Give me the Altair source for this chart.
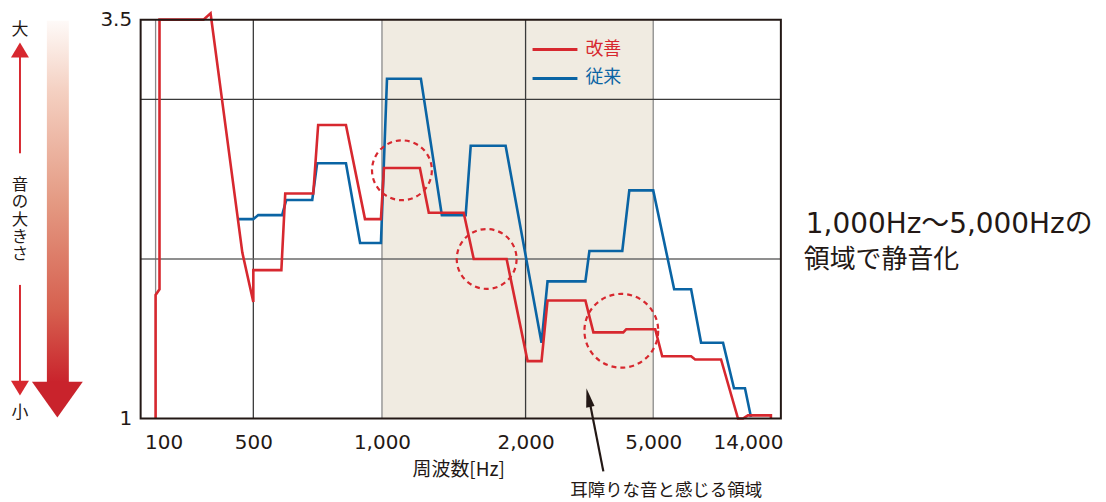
import altair as alt
import pandas as pd

RED = "#d7282f"
BLUE = "#0a64a4"
INK = "#231815"
BAND = "#f0ebe1"
JP = "Noto Sans CJK JP"
NUM = "DejaVu Sans"

# ---- data ----
red_freq = [100, 100, 116, 116, 296, 325, 455, 500, 500, 609, 624, 733, 752, 860,
            934, 996, 1014, 1264, 1326, 1569, 1639, 1868, 2047, 2375, 2516, 3406,
            3594, 4297, 4367, 5200, 5900, 8800, 9200, 11800, 13500, 14000, 14500,
            16800, 16800]
red_level = [1.0, 1.775, 1.81, 3.5, 3.5, 3.54, 2.04, 1.73, 1.93, 1.93, 2.41, 2.41,
             2.84, 2.84, 2.25, 2.25, 2.57, 2.57, 2.29, 2.29, 2.0, 2.0, 1.36, 1.36,
             1.74, 1.74, 1.54, 1.54, 1.56, 1.56, 1.39, 1.39, 1.37, 1.37, 1.0, 1.0,
             1.02, 1.02, 1.0]
blue_freq = [437, 500, 519, 612, 628, 729, 748, 860, 915, 996, 1035, 1271, 1417,
             1583, 1618, 1861, 2375, 2516, 3406, 3500, 4273, 4438, 5000, 7100, 8800,
             9800, 12000, 13100, 14200, 14800]
blue_level = [2.25, 2.25, 2.275, 2.275, 2.37, 2.37, 2.6, 2.6, 2.1, 2.1, 3.13, 3.13,
              2.275, 2.275, 2.71, 2.71, 1.475, 1.86, 1.86, 2.05, 2.05, 2.43, 2.43,
              1.81, 1.81, 1.475, 1.475, 1.19, 1.19, 1.01]

circle_small_freq = [1139, 1729]
circle_small_level = [2.556, 2.0]
circle_large_freq = [4250]
circle_large_level = [1.55]

x_ticks = [100, 500, 1000, 2000, 5000, 14000]
y_ticks = [1, 3.5]
grid_x_dark = [500, 2000]
grid_x_light = [100, 1000, 5000]
grid_y_dark = [3]
grid_y_light = [2]
band_start = [1000]
band_end = [5000]

series_names = ["改善", "従来"]
volume_chars = ["音", "の", "大", "き", "さ"]

# ---- scales / axes ----
W, H = 642, 400
x_domain = [39, 100, 500, 1000, 2000, 5000, 14000, 17800]
x_range = [0, 15, 113, 242, 386, 514, 604, 642]
xscale = alt.Scale(domain=x_domain, range=x_range, nice=False, zero=False)
yscale = alt.Scale(domain=[1, 3.5], nice=False, zero=False)

xaxis = alt.Axis(values=x_ticks, format=",d", grid=False, ticks=False, tickSize=0,
                 domain=False, labelFont=NUM, labelFontSize=20, labelColor=INK,
                 labelPadding=14, labelFlush=False, labelOverlap=False, title=None,
                 labelOffset={"condition": [{"test": "datum.value === 100", "value": 8},
                                            {"test": "datum.value === 14000", "value": 5}],
                              "value": 0})
yaxis = alt.Axis(values=y_ticks, format=".1~f", grid=False, ticks=False, tickSize=0,
                 domain=False, labelFont=NUM, labelFontSize=20, labelColor=INK,
                 labelPadding=9, labelFlush=False, labelOverlap=False, title=None)


def X(field):
    return alt.X(field, type="quantitative", scale=xscale, axis=xaxis)


def Y(field):
    return alt.Y(field, type="quantitative", scale=yscale, axis=yaxis)


dummy = pd.DataFrame({"a": [0]})

band = alt.Chart(pd.DataFrame({"f0": band_start, "f1": band_end})).mark_rect(
    color=BAND).encode(x=X("f0"), x2="f1")

gx_dark = alt.Chart(pd.DataFrame({"f": grid_x_dark})).mark_rule(
    color="#3a3a3a", strokeWidth=1.3).encode(x=X("f"))
gx_light = alt.Chart(pd.DataFrame({"f": grid_x_light})).mark_rule(
    color="#8a8a8a", strokeWidth=1.3).encode(x=X("f"))
gy_dark = alt.Chart(pd.DataFrame({"v": grid_y_dark})).mark_rule(
    color="#3a3a3a", strokeWidth=1.3).encode(y=Y("v"))
gy_light = alt.Chart(pd.DataFrame({"v": grid_y_light})).mark_rule(
    color="#6a6a6a", strokeWidth=1.3).encode(y=Y("v"))

blue_df = pd.DataFrame({"freq": blue_freq, "level": blue_level,
                        "i": list(range(len(blue_freq)))})
red_df = pd.DataFrame({"freq": red_freq, "level": red_level,
                       "i": list(range(len(red_freq)))})

blue_line = alt.Chart(blue_df).mark_line(color=BLUE, strokeWidth=2.6).encode(
    x=X("freq"), y=Y("level"), order="i:Q")
red_line = alt.Chart(red_df).mark_line(color=RED, strokeWidth=2.6).encode(
    x=X("freq"), y=Y("level"), order="i:Q")

circ_small = alt.Chart(pd.DataFrame({"freq": circle_small_freq,
                                     "level": circle_small_level})).mark_point(
    shape="circle", filled=False, size=3600, stroke=RED, strokeWidth=2.2,
    strokeDash=[5, 4], opacity=1).encode(x=X("freq"), y=Y("level"))
circ_large = alt.Chart(pd.DataFrame({"freq": circle_large_freq,
                                     "level": circle_large_level})).mark_point(
    shape="circle", filled=False, size=5476, stroke=RED, strokeWidth=2.2,
    strokeDash=[5, 4], opacity=1).encode(x=X("freq"), y=Y("level"))

# ---- legend (drawn) ----
leg_red = alt.Chart(dummy).mark_rule(color=RED, strokeWidth=3).encode(
    x=alt.value(393), x2=alt.value(438), y=alt.value(30))
leg_blue = alt.Chart(dummy).mark_rule(color=BLUE, strokeWidth=3).encode(
    x=alt.value(393), x2=alt.value(438), y=alt.value(59))
leg_red_t = alt.Chart(dummy).mark_text(font=JP, fontSize=18, color=RED, align="left",
                                       baseline="middle").encode(
    x=alt.value(446), y=alt.value(30), text=alt.value(series_names[0]))
leg_blue_t = alt.Chart(dummy).mark_text(font=JP, fontSize=18, color=BLUE, align="left",
                                        baseline="middle").encode(
    x=alt.value(446), y=alt.value(59), text=alt.value(series_names[1]))

# ---- annotations ----
x_title = alt.Chart(dummy).mark_text(font=JP, fontSize=19, color=INK, align="center",
                                     baseline="middle").encode(
    x=alt.value(319), y=alt.value(452), text=alt.value("周波数[Hz]"))
region_t = alt.Chart(dummy).mark_text(font=JP, fontSize=17.5, color=INK, align="center",
                                      baseline="middle").encode(
    x=alt.value(527), y=alt.value(473), text=alt.value("耳障りな音と感じる領域"))
arrow_shaft = alt.Chart(dummy).mark_rule(color=INK, strokeWidth=2.2).encode(
    x=alt.value(464), y=alt.value(453), x2=alt.value(451), y2=alt.value(387))
arrow_head = alt.Chart(dummy).mark_point(shape="M0,-1L0.45,1L-0.45,1Z", size=361,
                                         angle=348, filled=True, color=INK,
                                         opacity=1).encode(
    x=alt.value(449), y=alt.value(379))

right1 = alt.Chart(dummy).mark_text(font=NUM + ", " + JP, fontSize=28, color=INK,
                                    align="left", baseline="alphabetic").encode(
    x=alt.value(667), y=alt.value(214), text=alt.value("1,000Hz～5,000Hzの"))
right2 = alt.Chart(dummy).mark_text(font=JP, fontSize=26, color=INK, align="left",
                                    baseline="alphabetic").encode(
    x=alt.value(665), y=alt.value(249), text=alt.value("領域で静音化"))

# left loudness indicator
grad = alt.LinearGradient(gradient="linear", x1=0, x2=0, y1=0, y2=1, stops=[
    alt.GradientStop(offset=0, color="#fefaf8"),
    alt.GradientStop(offset=0.2, color="#f4cfc0"),
    alt.GradientStop(offset=0.5, color="#e49a83"),
    alt.GradientStop(offset=0.8, color="#d6604f"),
    alt.GradientStop(offset=1, color="#c9232c")])
big_shaft = alt.Chart(dummy).mark_rect(fill=grad).encode(
    x=alt.value(-94), x2=alt.value(-72), y=alt.value(1), y2=alt.value(364))
big_head = alt.Chart(dummy).mark_point(shape="M-1,-0.706L1,-0.706L0,0.706Z", size=2601,
                                       filled=True, color="#c9232c", opacity=1).encode(
    x=alt.value(-83.5), y=alt.value(381))

up_shaft = alt.Chart(dummy).mark_rule(color=RED, strokeWidth=2).encode(
    x=alt.value(-121), y=alt.value(37), y2=alt.value(134))
up_head = alt.Chart(dummy).mark_point(shape="M-1,0.83L1,0.83L0,-0.83Z", size=324,
                                      filled=True, color=RED, opacity=1).encode(
    x=alt.value(-121), y=alt.value(30.5))
down_shaft = alt.Chart(dummy).mark_rule(color=RED, strokeWidth=2).encode(
    x=alt.value(-121), y=alt.value(266), y2=alt.value(363))
down_head = alt.Chart(dummy).mark_point(shape="M-1,-0.83L1,-0.83L0,0.83Z", size=324,
                                        filled=True, color=RED, opacity=1).encode(
    x=alt.value(-121), y=alt.value(369.5))
big_t = alt.Chart(dummy).mark_text(font=JP, fontSize=17, color=INK, align="center",
                                   baseline="middle").encode(
    x=alt.value(-121), y=alt.value(10), text=alt.value("大"))
small_t = alt.Chart(dummy).mark_text(font=JP, fontSize=17, color=INK, align="center",
                                     baseline="middle").encode(
    x=alt.value(-121), y=alt.value(394), text=alt.value("小"))
vol_t = alt.Chart(dummy).mark_text(font=JP, fontSize=16.5, color=INK, align="center",
                                   baseline="top", lineHeight=17.3).encode(
    x=alt.value(-121), y=alt.value(158), text=alt.value(volume_chars))

border = alt.Chart(dummy).mark_rect(filled=False, stroke=INK, strokeWidth=2,
                                    fill=None).encode(
    x=alt.value(0), x2=alt.value(W), y=alt.value(0), y2=alt.value(H))

chart = alt.layer(
    band, gx_light, gx_dark, gy_light, gy_dark, blue_line, red_line,
    circ_small, circ_large, leg_red, leg_blue, leg_red_t, leg_blue_t,
    x_title, region_t, arrow_shaft, arrow_head, right1, right2,
    big_shaft, big_head, up_shaft, up_head, down_shaft, down_head,
    big_t, small_t, vol_t, border
).properties(
    width=W, height=H,
    padding={"left": 133, "top": 11, "right": 318, "bottom": 84},
    autosize=alt.AutoSizeParams(type="none"),
    background="white",
).configure_view(stroke=None)

chart.save("out.html", embed_options={"renderer": "svg", "actions": False})
